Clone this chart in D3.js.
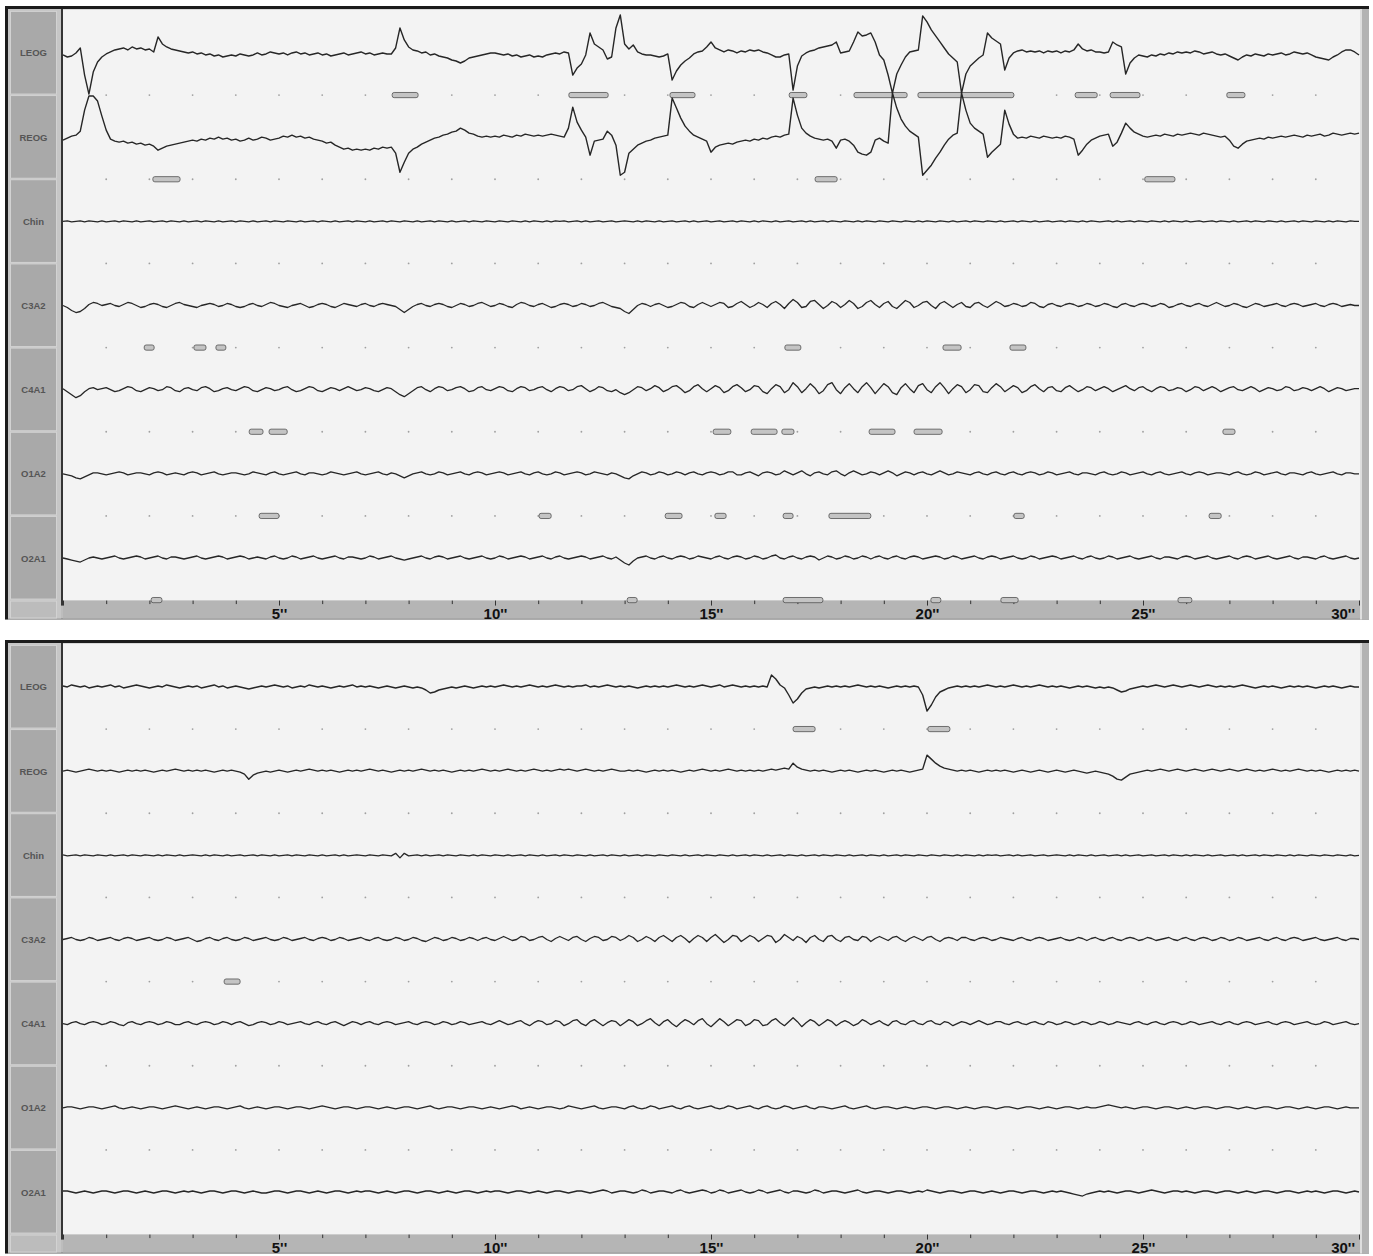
<!DOCTYPE html>
<html>
<head>
<meta charset="utf-8">
<script src="https://cdn.jsdelivr.net/npm/d3@7"></script>
<style>
  html, body { margin: 0; padding: 0; background: #ffffff; }
  svg { display: block; }
</style>
</head>
<body>
<svg id="chart" width="1373" height="1256"></svg>
<script>
// ---- Montage: two 30-second epochs, 7 derivations each ----
const channels = ["LEOG", "REOG", "Chin", "C3A2", "C4A1", "O1A2", "O2A1"];
const channelGain = [1, 1, 0.5, 1, 1, 1, 1];   // display gain per derivation
const epochSeconds = 30;
const sampleStep = 0.1;             // seconds between stored samples
const secondTicks = d3.range(0, 31);
const labelSeconds = [5, 10, 15, 20, 25, 30];
const labelSuffix = "''";

// Amplitudes in display units (1 unit = 1/42 of half a channel row at gain 1), positive = up.
// ---- Epoch 1 ----
const ep1LEOG = [
-2,-4,-3,0,5,-22,-41,-19,-9,-4, -1,1,3,4,5,3,6,4,5,3, 4,1,16,9,6,4,3,2,1,0,
1,-1,0,-2,-1,-3,-2,-4,-3,-2, -3,-1,-2,-3,-2,0,-2,-1,1,0, -1,0,-2,0,1,-1,0,-2,-1,0,
-2,-1,-3,-2,-1,0,-2,-1,0,1, -1,0,-2,-1,0,-1,-1,5,25,13, 6,3,2,0,1,-2,-1,-3,-4,-5,
-7,-8,-10,-8,-5,-4,-3,-2,-1,0, 0,-1,-2,-1,-3,-2,-4,-3,-2,-4, -3,-4,-2,-1,0,-1,1,0,-22,-15,
-11,-2,20,9,6,3,-6,-4,25,38, 9,4,8,1,-1,-2,-2,-3,-4,-3, -1,-27,-18,-12,-8,-5,-1,1,2,6,
11,5,3,1,3,2,0,2,1,3, 2,3,1,0,-2,-4,-4,-2,-1,-37, -13,-3,0,2,3,5,6,7,8,11,
0,1,2,11,21,17,18,20,11,-2, -7,-22,-40,-21,-12,-4,1,2,3,37, 31,23,17,11,5,-1,-5,-9,-40,-21,
-13,-9,-5,-2,20,15,12,9,-17,-5, 0,2,3,1,2,1,2,0,2,1, 2,0,2,1,3,9,4,2,3,1,
1,0,1,11,8,6,-21,-10,-5,-2, -3,-4,-2,-3,-1,-2,0,-1,1,0, 1,0,2,1,-1,0,1,-1,-2,-1,
-3,-5,-7,-4,-2,-3,-1,-2,-3,-1, -2,-1,0,-2,-1,1,0,-1,0,-2, -4,-5,-6,-7,-4,-2,1,3,3,1,
-2];
const ep1REOG = [
-3,-1,1,2,6,27,41,41,36,21, 7,-2,-4,-5,-4,-6,-5,-7,-6,-8, -7,-9,-13,-11,-9,-8,-7,-6,-5,-4,
-3,-4,-2,-3,-1,-2,0,-2,-1,-3, -2,-4,-3,-1,-3,-2,0,-1,-3,-2, -1,1,0,2,0,1,-1,0,-2,-3,
-4,-6,-5,-8,-10,-12,-11,-13,-12,-13, -12,-13,-11,-12,-10,-11,-10,-16,-35,-25, -16,-12,-10,-7,-5,-3,-1,0,2,3,
5,6,9,7,4,3,1,0,1,0, 1,0,2,1,0,2,1,3,2,1, 2,1,2,3,2,1,0,9,30,15,
7,0,-18,-4,-3,-2,6,2,-8,-38, -35,-16,-12,-8,-6,-4,-3,-1,0,1, 2,39,29,19,11,6,2,0,-2,-4,
-15,-10,-8,-7,-6,-7,-5,-4,-3,-4, -2,-3,-1,-2,0,1,0,2,3,39, 22,9,4,1,-1,-2,-3,-2,-4,-11,
-3,-2,-4,-8,-15,-17,-18,-15,-3,-1, -4,-6,44,29,18,11,6,3,0,-38, -33,-28,-21,-15,-8,-2,2,4,44,27,
14,9,6,3,-20,-15,-11,-7,27,13, 3,-1,0,-1,1,0,-1,1,0,-1, 0,-1,1,0,-2,-18,-13,-7,-3,-1,
1,2,3,-9,-5,4,14,9,5,3, 1,0,1,2,1,3,2,1,3,2, 3,4,3,2,4,3,2,1,0,1,
-3,-9,-11,-7,-4,-3,-2,-1,-2,0, -1,0,1,0,1,2,1,0,2,1, 2,3,1,2,4,3,2,3,4,3,
4];
const ep1Chin = [
0,1,-1,0,1,-1,1,0,-1,1, -1,0,1,-1,1,0,-1,1,-1,0, 1,-1,0,1,-1,1,0,-1,1,-1,
0,1,-1,1,0,-1,1,-1,0,1, -1,1,0,-1,1,-1,0,1,-1,1, 0,-1,1,0,-1,1,-1,0,1,-1,
1,0,-1,1,-1,0,1,-1,1,0, -1,1,-1,0,1,-1,1,0,-1,1, 0,-1,1,-1,0,1,-1,1,0,-1,
1,-1,0,1,-1,1,0,-1,1,0, -1,1,0,-1,1,0,-1,1,-1,1, 0,-1,1,-1,1,0,1,-1,0,1,
-1,1,-1,0,1,-1,0,1,-1,0, 1,0,-1,1,-1,1,0,-1,1,-1, 0,1,-1,0,1,-1,1,-1,0,1,
-1,0,1,-1,0,1,-1,1,0,-1, 1,-1,1,0,-1,1,-1,0,1,-1, 0,1,-1,1,-1,0,1,-1,1,0,
-1,1,0,-1,1,-1,1,0,-1,1, 0,-1,1,0,-1,1,0,-1,1,-1, 1,0,-1,1,0,-1,1,-1,0,1,
-1,1,0,-1,1,0,-1,1,-1,0, 1,-1,1,0,-1,1,-1,0,1,-1, 0,1,-1,1,0,-1,1,-1,1,0,
-1,0,1,-1,1,-1,0,1,-1,1, 0,-1,1,0,-1,1,-1,1,0,-1, 1,-1,0,1,-1,0,1,-1,1,0,
-1,1,-1,0,1,-1,1,0,-1,1, 0,-1,1,-1,0,1,-1,1,0,-1, 1,0,-1,1,-1,1,0,-1,1,0,
0];
const ep1C3A2 = [
0,-2,-5,-7,-6,-3,1,3,2,0, 1,2,0,-1,1,3,2,0,-2,-1, 1,2,1,-1,-2,0,2,3,1,0,
-1,-2,0,1,2,1,-1,0,2,1, -1,-2,-1,1,2,0,-1,1,3,2, 0,-1,-2,0,1,2,0,-2,-1,1,
2,1,-1,-2,0,2,1,0,-1,1, 2,0,-1,1,2,1,0,-1,-4,-7, -4,-1,1,2,0,-1,1,2,1,-1,
-2,0,2,1,-1,0,2,3,1,-1, 0,2,1,-1,-2,1,3,2,0,-1, 1,2,0,-2,-1,1,2,1,-1,0,
2,1,-1,0,2,3,1,-1,-2,-3, -6,-8,-4,0,2,1,-1,1,2,0, -2,-1,1,3,2,-1,-2,1,3,1,
-1,1,3,2,-2,-1,2,4,1,-2, 0,3,1,-2,2,4,1,-3,2,6, 3,-2,-1,4,5,1,-3,0,4,2,
-2,1,5,2,-3,-1,3,5,1,-2, 2,4,-1,-3,1,5,3,-2,0,3, 4,0,-3,2,4,1,-2,1,3,-1,
-2,2,3,0,-2,1,4,2,-1,0, 2,1,-1,0,3,2,-1,-2,1,2, 0,-1,1,2,1,-1,0,2,1,-1,
0,2,1,-1,-2,1,2,0,-1,1, 2,1,-1,0,2,1,-2,-1,1,2, 0,-1,1,2,0,-1,1,3,1,-1,
0,2,1,-1,-2,0,2,1,-1,0, 1,2,0,-1,1,2,1,-1,0,1, 2,0,-1,1,2,1,-1,0,1,0,
0];
const ep1C4A1 = [
1,-2,-5,-8,-6,-2,1,2,0,1, 2,0,-2,-1,1,3,2,-1,-2,0, 2,1,-1,0,3,2,-1,-2,1,2,
0,-1,2,3,1,-2,-1,1,2,0, -1,1,3,2,-1,-2,0,2,1,-1, 0,2,3,0,-2,-1,1,3,2,-1,
-2,0,2,1,-1,1,3,1,-1,0, 2,1,-1,-2,0,2,1,-2,-5,-7, -4,-1,2,3,0,-2,1,3,2,-1,
0,2,3,1,-2,-1,2,3,0,-1, 1,3,2,-1,-2,1,3,2,-1,0, 2,3,0,-2,1,3,2,-1,0,3,
4,1,-2,0,3,2,-1,-2,0,-3, -5,-3,0,3,2,-1,1,4,2,-2, 0,3,4,1,-3,-1,3,5,1,-2,
1,4,2,-3,-1,3,5,2,-2,0, 4,3,-2,-4,1,5,3,-3,0,7, 3,-3,1,6,2,-4,-1,5,7,0,
-4,2,6,1,-3,3,7,2,-4,1, 6,3,-3,-5,2,6,1,-3,4,6, 0,-3,3,7,2,-4,1,5,3,-3,
0,5,4,-2,-3,2,6,3,-2,1, 4,2,-3,-1,3,5,1,-2,2,3, -1,-2,2,4,1,-2,0,3,2,-1,
1,3,1,-2,0,2,4,1,-1,2, 3,0,-2,1,3,2,-1,0,2,1, -2,0,3,2,-1,1,3,1,-2,0,
2,3,0,-1,1,3,1,-2,0,2, 1,-1,0,3,2,-1,0,2,1,-1, 1,3,1,-2,0,2,1,-1,0,1,
1];
const ep1O1A2 = [
0,-1,-2,-4,-5,-3,-1,1,1,0, -1,0,1,2,1,-1,0,1,1,0, -1,1,2,1,-1,0,1,0,-1,1,
2,1,-1,0,1,2,0,-1,0,1, 1,0,-1,0,2,1,0,-1,1,2, 0,-1,0,1,2,0,-1,1,1,0,
-1,0,2,1,0,-1,0,1,2,0, -1,0,1,2,0,-1,1,0,-2,-4, -2,0,1,2,0,-1,0,2,1,-1,
0,1,2,0,-1,1,2,1,-1,0, 1,2,1,-1,0,1,2,0,-1,1, 2,0,-1,0,2,1,-1,0,1,2,
1,-1,0,2,1,0,-1,1,0,-2, -4,-5,-2,0,2,1,-1,0,2,1, -1,0,2,1,-1,1,2,0,-1,1,
2,1,-1,0,2,2,-1,-1,1,2, 0,-2,1,2,1,-1,0,3,1,-1, 1,3,0,-2,1,2,0,-1,2,3,
0,-2,1,3,1,-1,0,2,1,-1, 1,3,1,-2,0,2,1,-1,1,2, 0,-1,1,3,1,-1,0,2,1,0,
-1,1,2,0,-1,1,2,0,-1,1, 2,0,-1,1,2,1,-1,0,2,1, -1,0,1,2,0,-1,1,1,0,-1,
1,2,0,-1,0,2,1,-1,0,1, 2,0,-1,1,2,0,-1,0,1,2, 0,-1,1,2,1,-1,0,1,1,0,
-1,1,2,0,-1,0,2,1,-1,0, 1,2,0,-1,1,1,0,-1,1,2, 0,-1,0,1,2,0,-1,1,1,0,
0];
const ep1O2A1 = [
0,-1,-2,-3,-4,-2,0,1,0,-1, 0,1,2,0,-1,0,1,2,1,-1, 0,1,2,0,-1,1,1,0,-1,0,
1,2,0,-1,0,1,2,1,-1,0, 1,2,1,-1,0,1,0,-1,1,2, 0,-1,0,2,1,-1,0,1,2,0,
-1,0,1,2,0,-1,1,1,0,-1, 0,2,1,-1,0,1,2,0,-1,-2, -1,0,1,2,0,-1,1,2,1,-1,
0,1,2,0,-1,0,1,2,0,-1, 0,2,1,-1,0,1,2,1,-1,0, 1,2,0,-1,1,2,0,-1,0,1,
2,1,-1,0,1,2,0,-1,1,-2, -5,-7,-3,0,1,2,0,-1,1,2, 0,-1,1,2,1,-1,0,2,1,0,
-1,1,2,0,-1,1,2,1,-1,0, 2,1,-1,0,2,3,0,-1,1,2, 0,-1,1,2,1,-2,0,2,1,-1,
0,2,1,-1,0,2,1,-1,1,2, 0,-1,1,2,0,-1,1,2,1,-1, 0,1,2,1,-1,0,2,1,-1,0,
1,2,0,-1,1,2,1,-1,0,1, 2,0,-1,0,2,1,-1,0,1,2, 1,-1,0,1,2,0,-1,1,2,0,
-1,0,2,1,-1,0,1,2,0,-1, 0,1,2,0,-1,1,1,0,-1,1, 2,1,-1,0,1,2,0,-1,0,1,
2,0,-1,1,2,1,-1,0,1,2, 0,-1,0,1,2,0,-1,1,1,0, -1,1,2,0,-1,0,1,2,0,-1,
0];

// ---- Epoch 2 ----
const ep2LEOG = [
1,0,2,1,0,1,-1,0,1,0, 1,2,0,1,-1,0,1,2,1,0, -1,0,1,0,2,1,0,-1,0,1,
0,1,-1,0,1,2,0,1,-1,0, 1,0,-1,-2,-1,0,1,0,1,2, 1,0,1,-1,0,1,0,2,1,0,
1,0,-1,0,1,0,1,2,0,1, 0,1,0,-1,0,1,0,-1,0,1, 0,-1,0,-1,-3,-6,-5,-3,-2,-1,
0,-1,0,1,0,-1,0,1,0,1, 0,1,2,1,0,1,0,1,2,1, 0,1,0,1,2,1,0,1,0,1,
1,2,0,1,0,1,2,1,0,1, 0,1,0,-1,0,1,0,1,0,1, 0,1,2,1,0,1,0,1,2,1,
0,1,2,0,1,2,1,0,1,0, 1,0,1,0,12,8,2,-1,-8,-16, -12,-6,-2,-1,0,-1,0,1,0,1,
0,1,0,1,2,1,0,1,0,1, 0,-1,0,1,0,1,0,1,0,-8, -24,-18,-10,-5,-3,-1,0,1,0,1,
0,1,0,1,2,1,0,1,0,1, 2,1,0,1,0,1,2,1,0,1, 0,1,0,-1,0,1,0,1,0,-1,
0,-1,0,-1,-3,-5,-4,-2,-1,0, 1,0,1,2,1,0,1,2,1,0, 1,2,1,0,1,2,1,0,1,0,
1,0,1,2,1,0,-1,0,1,0, 1,0,-1,0,1,0,1,0,1,0, -1,0,1,0,1,0,-1,0,1,0,
0];
const ep2REOG = [
0,1,0,-1,0,1,2,1,0,1, 0,1,0,-1,0,1,0,1,0,1, 0,-1,0,1,0,1,2,1,0,1,
0,1,0,1,0,-1,0,1,0,1, 0,-1,-3,-8,-4,-2,-1,0,-1,0, 1,0,-1,0,1,0,1,2,1,0,
1,0,1,0,-1,0,1,0,1,0, 1,2,1,0,1,0,-1,0,1,0, 1,0,1,2,1,0,1,0,1,0,
-1,0,1,0,1,0,1,2,1,0, 1,0,1,2,1,0,1,0,1,2, 1,0,1,0,1,2,1,2,1,0,
1,2,1,0,1,0,1,2,1,0, 0,1,0,1,0,-1,0,1,0,1, 0,1,0,-1,0,1,0,1,2,1,
0,1,0,1,2,1,0,1,0,1, 0,1,0,1,2,1,2,3,2,8, 4,2,1,0,1,0,1,0,-1,0,
1,0,1,0,-1,0,1,0,1,0, -1,0,1,0,1,0,-1,0,1,2, 16,12,8,5,3,2,1,0,1,0,
1,0,-1,0,1,0,1,0,1,0, -1,0,1,0,-1,0,1,0,-1,0, 1,0,-1,0,1,0,-1,-2,-1,0,
-1,-2,-3,-5,-8,-9,-6,-3,-2,-1, 0,1,0,1,2,1,0,1,2,1, 0,1,2,1,0,1,2,1,0,1,
2,1,0,1,2,1,0,1,0,1, 2,1,0,1,0,1,2,1,0,1, 0,1,0,-1,0,1,0,1,0,1,
0];
const ep2Chin = [
1,-1,0,1,-1,1,0,-1,1,0, -1,1,-1,0,1,-1,1,0,-1,1, 0,-1,1,-1,1,0,-1,1,-1,0,
1,0,-1,1,-1,1,0,-1,1,-1, 0,1,-1,0,1,-1,1,0,-1,1, -1,0,1,-1,1,0,-1,1,0,-1,
1,-1,0,1,-1,1,-1,0,1,0, -1,1,0,-1,1,0,-1,4,-5,4, -1,0,1,-1,1,-1,0,1,-1,1,
0,-1,1,0,-1,1,-1,1,0,-1, 1,0,-1,1,-1,0,1,-1,1,0, -1,1,-1,0,1,-1,1,0,-1,1,
0,-1,1,-1,0,1,-1,1,0,-1, 1,-1,0,1,-1,1,0,-1,1,0, -1,1,0,-1,1,-1,0,1,-1,1,
0,-1,1,0,-1,1,-1,0,1,-1, 1,0,-1,1,-1,0,1,-1,1,0, -1,1,-1,0,1,-1,1,0,-1,1,
0,-1,1,-1,0,1,-1,1,0,-1, 1,-1,0,1,-1,1,0,-1,1,0, -1,1,0,-1,1,0,-1,1,-1,1,
0,-1,1,-1,1,0,1,-1,0,1, -1,1,-1,0,1,-1,0,1,-1,0, 1,0,-1,1,-1,1,0,-1,1,-1,
0,1,-1,0,1,-1,1,-1,0,1, -1,0,1,-1,0,1,-1,1,0,-1, 1,-1,1,0,-1,1,-1,0,1,-1,
0,1,-1,1,-1,0,1,-1,1,0, -1,1,0,-1,1,-1,1,0,-1,1, 0,-1,1,0,-1,1,0,-1,1,-1,
0];
const ep2C3A2 = [
0,1,2,0,-1,0,2,1,-1,0, 1,2,0,-1,1,2,1,-1,0,1, 2,0,-1,0,2,1,-1,0,1,2,
0,-2,-1,1,2,0,-1,1,2,0, -1,0,2,1,-1,0,1,2,0,-1, 0,2,1,-1,0,1,2,0,-1,1,
2,1,-1,0,2,1,-1,0,1,2, 0,-1,1,2,0,-1,0,2,1,-1, 0,2,1,-1,-2,0,2,1,-1,0,
2,1,-1,0,2,1,-1,1,2,0, -1,1,3,1,-1,0,3,2,-1,0, 2,3,0,-2,1,3,1,-1,2,3,
0,-2,1,3,2,-1,0,3,2,-1, 1,4,2,-2,0,3,1,-2,2,4, 1,-2,2,4,1,-3,1,4,2,-2,
2,5,1,-3,0,4,3,-2,1,4, 2,-2,1,4,3,-3,0,5,2,-1, 3,1,-3,2,4,0,-2,3,4,0,
-2,2,3,0,-1,3,2,-2,1,3, 1,-1,2,3,0,-2,1,3,1,-1, 2,3,0,-2,1,2,1,-1,2,2,
0,-1,1,2,1,-1,0,2,1,0, -1,1,2,0,-1,1,2,1,-1,0, 1,2,0,-1,0,2,1,-1,1,2,
0,-1,1,2,0,-1,1,2,1,-1, 0,2,1,-1,0,1,2,0,-1,1, 2,0,-1,1,2,1,-1,0,2,1,
-1,0,2,1,-1,0,1,2,0,-1, 1,2,0,-1,1,2,1,-1,0,1, 2,0,-1,0,1,2,0,-1,1,1,
0];
const ep2C4A1 = [
0,-1,1,2,0,-1,1,2,1,-1, 0,2,1,-1,-2,1,2,0,-1,1, 2,1,-1,0,2,1,-1,-1,1,2,
0,-1,1,2,1,-1,0,2,1,-1, 1,2,0,-2,-1,1,2,1,-1,0, 2,1,-1,0,1,2,0,-1,1,2,
0,-1,1,2,0,-2,0,2,1,-1, 1,2,0,-1,1,2,1,-1,0,1, 2,0,-1,1,2,1,-1,0,2,1,
-1,0,2,1,-1,0,1,2,0,-1, 1,3,1,-1,0,2,3,0,-2,1, 3,2,-1,0,3,2,-2,0,3,4,
0,-2,2,4,1,-2,1,3,2,-2, 1,4,2,-2,0,3,5,1,-2,2, 4,0,-3,1,4,2,-1,3,5,0,
-3,1,5,2,-2,1,4,3,-2,0, 4,3,-2,-1,3,5,1,-2,2,6, 2,-3,1,4,2,-2,1,4,2,-2,
1,3,1,-2,0,4,2,-1,1,3, 0,-2,2,3,0,-1,2,3,0,-1, 2,3,0,-1,2,1,-2,0,2,1,
-1,1,3,1,-1,0,2,2,0,-1, 1,2,0,-1,1,2,0,-1,2,1, -1,0,2,1,-1,0,2,1,-1,0,
2,1,-1,0,2,1,0,-1,1,2, 0,-1,1,2,0,-1,1,2,1,-1, 0,2,1,-1,0,1,2,0,-1,1,
2,0,-1,1,2,1,-1,0,1,2, 0,-1,1,2,1,-1,0,1,2,0, -1,0,2,1,-1,0,1,2,0,-1,
0];
const ep2O1A2 = [
0,1,1,0,-1,0,1,1,0,-1, 0,1,2,0,-1,0,1,0,-1,0, 1,1,0,-1,0,1,2,1,0,-1,
0,1,0,-1,0,1,1,0,-1,0, 1,2,0,-1,0,1,0,-1,0,1, 1,0,-1,0,1,1,0,-1,0,1,
2,1,0,-1,0,1,1,0,-1,0, 1,1,0,-1,0,1,0,-1,0,1, 1,0,-1,0,1,2,0,-1,0,1,
1,0,-1,0,1,1,0,-1,0,1, 0,-1,0,1,2,1,-1,0,1,0, -1,0,1,1,0,-1,0,2,1,0,
-1,0,1,2,0,-1,0,1,1,0, -1,1,2,0,-1,0,2,1,-1,0, 1,2,0,-1,1,2,0,-1,0,1,
2,0,-1,0,2,1,-1,0,1,2, 0,-1,1,2,0,-1,0,2,1,-1, 0,1,2,0,-1,1,1,0,-1,0,
1,2,0,-1,0,1,2,0,-1,0, 1,1,0,-1,0,1,0,-1,0,1, 1,0,-1,0,1,1,0,-1,0,1,
0,-1,0,1,1,0,-1,0,1,1, 0,-1,0,1,1,0,-1,0,1,0, -1,0,1,1,0,-1,0,1,0,0,
1,2,3,2,1,0,1,0,-1,0, 1,1,0,-1,0,1,1,0,-1,0, 1,0,-1,0,1,1,0,-1,0,1,
1,0,-1,0,1,0,-1,0,1,1, 0,-1,0,1,1,0,-1,0,1,0, -1,0,1,1,0,-1,0,1,0,0,
0];
const ep2O2A1 = [
1,1,0,-1,0,1,0,-1,0,1, 1,0,-1,0,1,1,0,-1,0,1, 0,-1,0,1,1,0,-1,0,1,0,
1,0,-1,0,1,1,0,-1,0,1, 1,0,-1,0,1,0,-1,-1,0,1, 1,0,-1,0,1,1,0,-1,0,1,
0,-1,0,1,1,0,-1,0,1,0, 1,1,0,-1,0,1,0,-1,0,1, 1,0,-1,0,1,1,0,-1,0,1,
0,-1,0,1,1,0,-1,0,1,0, 1,1,0,-1,0,1,1,0,-1,0, 1,0,-1,0,1,1,0,-1,0,1,
1,0,-1,0,1,2,1,-1,0,1, 1,0,-1,0,2,1,-1,0,1,1, 0,-1,1,2,0,-1,0,1,2,1,
-1,0,2,1,-1,0,1,2,0,-1, 0,2,1,-1,0,1,2,0,-1,1, 1,0,-1,0,2,1,-1,0,1,1,
0,-1,0,1,2,0,-1,0,1,1, 0,-1,0,1,1,0,-1,0,1,0, 2,1,0,-1,0,1,1,0,-1,0,
1,1,0,-1,0,1,0,-1,0,1, 1,0,-1,0,1,1,0,-1,0,1, 0,1,0,-1,-2,-3,-4,-2,-1,0,
1,0,1,0,-1,0,1,1,0,-1, 0,1,2,1,0,-1,0,1,1,0, 1,0,-1,0,1,1,0,-1,0,1,
1,0,-1,0,1,0,-1,0,1,1, 0,-1,0,1,1,0,-1,0,1,0, 1,0,-1,0,1,1,0,-1,0,1,
0];

// Scored event markers: [boundary below channel row, start s, end s]
const ep1Events = [
  [0, 7.62, 8.22], [0, 11.71, 12.62], [0, 14.05, 14.63], [0, 16.81, 17.22],
  [0, 18.31, 19.54], [0, 19.79, 22.01], [0, 23.43, 23.94], [0, 24.24, 24.93], [0, 26.94, 27.36],
  [1, 2.08, 2.71], [1, 17.41, 17.92], [1, 25.04, 25.74],
  [3, 1.88, 2.11], [3, 3.03, 3.31], [3, 3.54, 3.77], [3, 16.71, 17.08], [3, 20.37, 20.79], [3, 21.92, 22.29],
  [4, 4.31, 4.63], [4, 4.77, 5.19], [4, 15.05, 15.46], [4, 15.93, 16.53], [4, 16.64, 16.92],
  [4, 18.66, 19.26], [4, 19.70, 20.35], [4, 26.85, 27.13],
  [5, 4.54, 5.00], [5, 11.02, 11.30], [5, 13.94, 14.33], [5, 15.09, 15.35], [5, 16.67, 16.90],
  [5, 17.73, 18.70], [5, 22.01, 22.25], [5, 26.53, 26.81],
  [6, 2.04, 2.29], [6, 13.06, 13.29], [6, 16.67, 17.59], [6, 20.09, 20.32], [6, 21.71, 22.11], [6, 25.81, 26.13]
];
const ep2Events = [
  [0, 16.90, 17.41], [0, 20.02, 20.53], [3, 3.73, 4.10]
];

// ---- layout ----
const svg = d3.select("#chart");
const defs = svg.append("defs");
const plotLeft = 63, plotRight = 1360, tEndX = 1359;
const rowTop0 = 10.9, rowH = 84.17;
const x = d3.scaleLinear().domain([0, epochSeconds]).range([plotLeft, tEndX]);

function drawEpoch(offsetY, traces, events, id) {
  const g = svg.append("g").attr("transform", `translate(0,${offsetY})`);
  const stripTop = rowTop0 + rowH * channels.length + 0.5;
  const stripBottom = 619.5;

  // frame
  g.append("rect").attr("x", 5).attr("y", 6).attr("width", 1364).attr("height", stripBottom - 6)
    .attr("fill", "#bdbdbd");
  g.append("rect").attr("x", 5).attr("y", 6).attr("width", 1364).attr("height", 3).attr("fill", "#1c1c1c");
  g.append("rect").attr("x", 5).attr("y", 6).attr("width", 3).attr("height", stripBottom - 6).attr("fill", "#1c1c1c");
  g.append("rect").attr("x", 8).attr("y", stripBottom - 1).attr("width", 1361).attr("height", 1).attr("fill", "#7a7a7a");
  g.append("rect").attr("x", 1362).attr("y", 9).attr("width", 7).attr("height", stripBottom - 9).attr("fill", "#b3b3b3");
  g.append("rect").attr("x", 1360).attr("y", 9).attr("width", 2).attr("height", stripBottom - 9).attr("fill", "#dedede");

  // channel name column
  g.append("rect").attr("x", 8).attr("y", 9).attr("width", 53).attr("height", stripBottom - 10).attr("fill", "#c6c6c6");
  channels.forEach((name, k) => {
    const top = rowTop0 + k * rowH;
    g.append("rect").attr("x", 10.5).attr("y", top + 0.5).attr("width", 46).attr("height", rowH - 1.5)
      .attr("fill", "#a9a9a9").attr("stroke", "#d2d2d2").attr("stroke-width", 1);
    g.append("text").attr("x", 33.5).attr("y", top + rowH / 2 + 3.5)
      .attr("text-anchor", "middle").attr("font-family", "Liberation Sans, Arial, sans-serif")
      .attr("font-size", 9.5).attr("font-weight", "bold").attr("fill", "#555").text(name);
  });
  g.append("rect").attr("x", 10.5).attr("y", stripTop + 0.5).attr("width", 46).attr("height", stripBottom - stripTop - 2)
    .attr("fill", "#bcbcbc").attr("stroke", "#d2d2d2");
  g.append("rect").attr("x", 61).attr("y", 9).attr("width", 2).attr("height", stripTop - 9 + 5).attr("fill", "#353535");

  // plot area
  g.append("rect").attr("x", plotLeft).attr("y", 9.5).attr("width", plotRight - plotLeft).attr("height", stripTop - 9.5)
    .attr("fill", "#f3f3f3");

  // time strip with second ticks
  g.append("rect").attr("x", plotLeft).attr("y", stripTop).attr("width", plotRight - plotLeft)
    .attr("height", stripBottom - 1 - stripTop).attr("fill", "#b5b5b5");
  const axis = d3.axisBottom(x).tickValues(secondTicks).tickSize(4).tickFormat("");
  const ax = g.append("g").attr("transform", `translate(0,${stripTop})`).call(axis);
  ax.select(".domain").remove();
  ax.selectAll(".tick line").attr("stroke", "#333").attr("stroke-width", 1)
    .attr("y2", d => d % 5 === 0 ? 5 : 3.5);

  defs.append("clipPath").attr("id", id + "-strip").append("rect")
    .attr("x", plotLeft).attr("y", stripTop).attr("width", plotRight - plotLeft).attr("height", stripBottom - stripTop);
  g.append("g").attr("clip-path", `url(#${id}-strip)`).selectAll("text").data(labelSeconds).join("text")
    .attr("x", d => d === epochSeconds ? x(d) - 4 : x(d) + 0.5)
    .attr("y", stripBottom - 0.5)
    .attr("text-anchor", d => d === epochSeconds ? "end" : "middle")
    .attr("font-family", "Liberation Sans, Arial, sans-serif")
    .attr("font-size", 15).attr("font-weight", "bold").attr("fill", "#111")
    .text(d => d + labelSuffix);

  // row-boundary second markers
  const boundaries = d3.range(0, channels.length - 1);
  boundaries.forEach(b => {
    const yb = rowTop0 + (b + 1) * rowH;
    g.append("g").selectAll("circle").data(d3.range(1, epochSeconds)).join("circle")
      .attr("cx", d => x(d)).attr("cy", yb).attr("r", 0.9).attr("fill", "#a0a0a0");
  });

  // event markers
  g.append("g").selectAll("rect").data(events).join("rect")
    .attr("x", d => x(d[1])).attr("y", d => rowTop0 + (d[0] + 1) * rowH - 2.6)
    .attr("width", d => x(d[2]) - x(d[1])).attr("height", 5.2).attr("rx", 2)
    .attr("fill", "#c4c4c4").attr("stroke", "#505050").attr("stroke-width", 0.8);

  // traces
  traces.forEach((values, k) => {
    const center = rowTop0 + k * rowH + rowH / 2;
    const half = 42 / channelGain[k];
    const y = d3.scaleLinear().domain([-half, half]).range([center + rowH / 2, center - rowH / 2]);
    const line = d3.line().x((d, i) => x(i * sampleStep)).y(d => y(d));
    g.append("path").datum(values).attr("d", line)
      .attr("fill", "none").attr("stroke", "#262626")
      .attr("stroke-width", k < 2 ? 1.4 : 1.3).attr("stroke-linejoin", "round");
  });
}

drawEpoch(0, [ep1LEOG, ep1REOG, ep1Chin, ep1C3A2, ep1C4A1, ep1O1A2, ep1O2A1], ep1Events, "ep1");
drawEpoch(634, [ep2LEOG, ep2REOG, ep2Chin, ep2C3A2, ep2C4A1, ep2O1A2, ep2O2A1], ep2Events, "ep2");
</script>
</body>
</html>
